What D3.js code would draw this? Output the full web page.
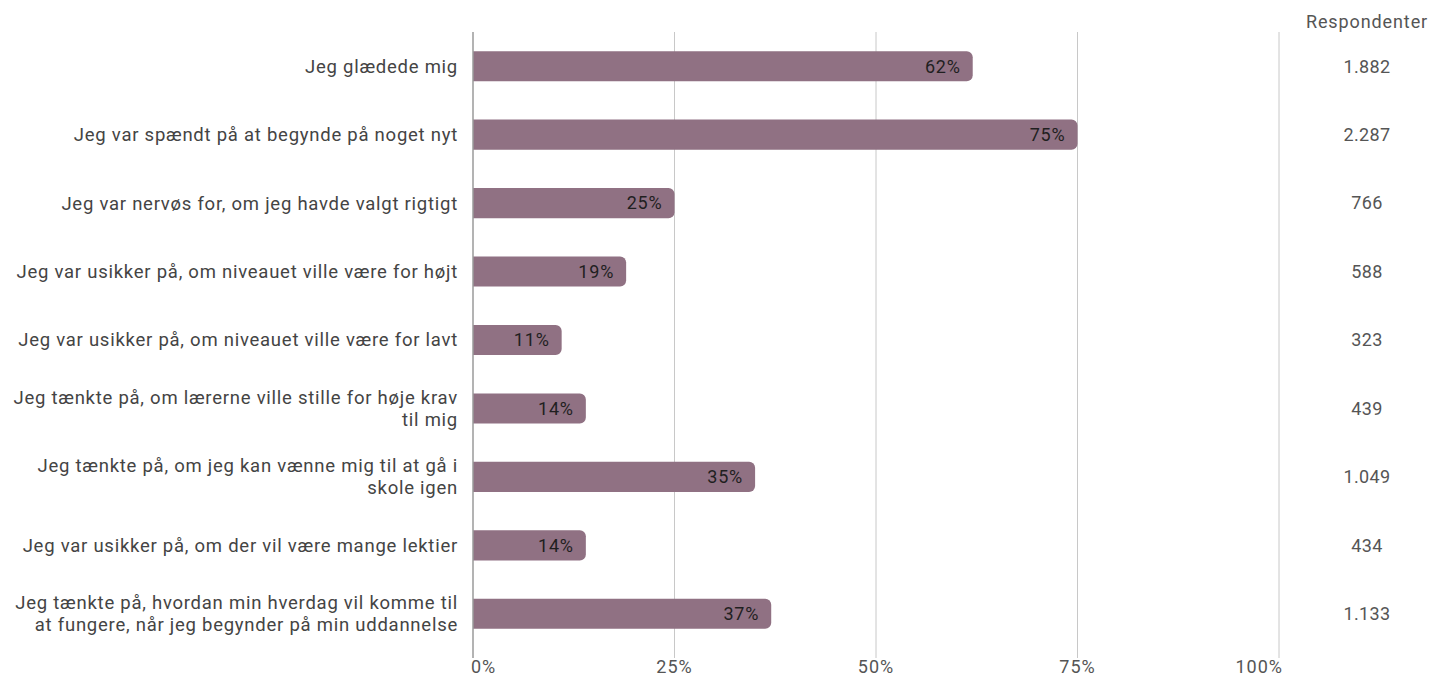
<!DOCTYPE html>
<html><head><meta charset="utf-8">
<script src="https://cdn.jsdelivr.net/npm/d3@7"></script>
<style>
html,body{margin:0;padding:0;background:#fff;}
svg{display:block;font-family:Roboto,"Noto Sans",sans-serif;}
</style></head>
<body>
<svg id="chart" width="1432" height="677"></svg>
<script>
const categories = [
  "Jeg glædede mig",
  "Jeg var spændt på at begynde på noget nyt",
  "Jeg var nervøs for, om jeg havde valgt rigtigt",
  "Jeg var usikker på, om niveauet ville være for højt",
  "Jeg var usikker på, om niveauet ville være for lavt",
  "Jeg tænkte på, om lærerne ville stille for høje krav\ntil mig",
  "Jeg tænkte på, om jeg kan vænne mig til at gå i\nskole igen",
  "Jeg var usikker på, om der vil være mange lektier",
  "Jeg tænkte på, hvordan min hverdag vil komme til\nat fungere, når jeg begynder på min uddannelse"
];
const percents = [62, 75, 25, 19, 11, 14, 35, 14, 37];
const respondents = [1882, 2287, 766, 588, 323, 439, 1049, 434, 1133];
const tickValues = [0, 25, 50, 75, 100];
const tickLabels = ["0%", "25%", "50%", "75%", "100%"];
const columnTitle = "Respondenter";

const svg = d3.select("#chart");
const x = d3.scaleLinear().domain([0, 100]).range([473, 1279]);
const y = d3.scaleBand().domain(d3.range(categories.length)).range([32, 648])
  .paddingInner(0.56).paddingOuter(0.28);

// gridlines
svg.append("g").selectAll("line").data(tickValues.slice(1)).join("line")
  .attr("x1", d => x(d)).attr("x2", d => x(d))
  .attr("y1", 32).attr("y2", 658)
  .attr("stroke", "#c8c8c8").attr("stroke-width", 1);

// bars with rounded right end
const r = 6;
svg.append("g").selectAll("path").data(percents).join("path")
  .attr("fill", "#907183")
  .attr("d", (d, i) => {
    const x0 = x(0), x1 = x(d), y0 = y(i), h = y.bandwidth();
    return `M${x0},${y0}H${x1 - r}A${r},${r} 0 0 1 ${x1},${y0 + r}V${y0 + h - r}A${r},${r} 0 0 1 ${x1 - r},${y0 + h}H${x0}Z`;
  });

// zero axis line
svg.append("line").attr("x1", x(0)).attr("x2", x(0)).attr("y1", 32).attr("y2", 658)
  .attr("stroke", "#9a9a9a").attr("stroke-width", 1.5);

// value labels in bars
svg.append("g").selectAll("text").data(percents).join("text")
  .attr("x", d => x(d) - 12)
  .attr("y", (d, i) => y(i) + y.bandwidth() / 2)
  .attr("dy", "0.35em")
  .attr("text-anchor", "end")
  .attr("font-size", 18)
  .attr("letter-spacing", 0.8)
  .attr("fill", "#1f1f1f")
  .text(d => d + "%");

// x tick labels
svg.append("g").selectAll("text").data(tickValues).join("text")
  .attr("x", d => x(d) + (d === 0 ? -2 : d === 100 ? 4 : 0))
  .attr("y", 667)
  .attr("dy", "0.35em")
  .attr("text-anchor", (d, i) => i === 0 ? "start" : i === tickValues.length - 1 ? "end" : "middle")
  .attr("font-size", 18)
  .attr("letter-spacing", 1)
  .attr("fill", "#555")
  .text((d, i) => tickLabels[i]);

// category labels
const cat = svg.append("g").selectAll("text").data(categories).join("text")
  .attr("text-anchor", "end")
  .attr("font-size", 18.5)
  .attr("letter-spacing", 0.75)
  .attr("fill", "#444");
cat.each(function (d, i) {
  const lines = d.split("\n");
  const cy = y(i) + y.bandwidth() / 2;
  const lh = 22;
  const start = cy - (lines.length - 1) * lh / 2;
  d3.select(this).selectAll("tspan").data(lines).join("tspan")
    .attr("x", 458)
    .attr("y", (l, k) => start + k * lh)
    .attr("dy", "0.35em")
    .text(l => l);
});

// respondents column
const fmt = d3.formatLocale({decimal: ",", thousands: ".", grouping: [3], currency: ["", " kr."]}).format(",d");
svg.append("text").attr("x", 1367).attr("y", 22).attr("dy", "0.35em")
  .attr("text-anchor", "middle").attr("font-size", 18).attr("letter-spacing", 0.9)
  .attr("fill", "#555").text(columnTitle);
svg.append("g").selectAll("text").data(respondents).join("text")
  .attr("x", 1367)
  .attr("y", (d, i) => y(i) + y.bandwidth() / 2)
  .attr("dy", "0.35em")
  .attr("text-anchor", "middle")
  .attr("font-size", 18)
  .attr("letter-spacing", 0.4)
  .attr("fill", "#555")
  .text(d => fmt(d));
</script>
</body></html>
